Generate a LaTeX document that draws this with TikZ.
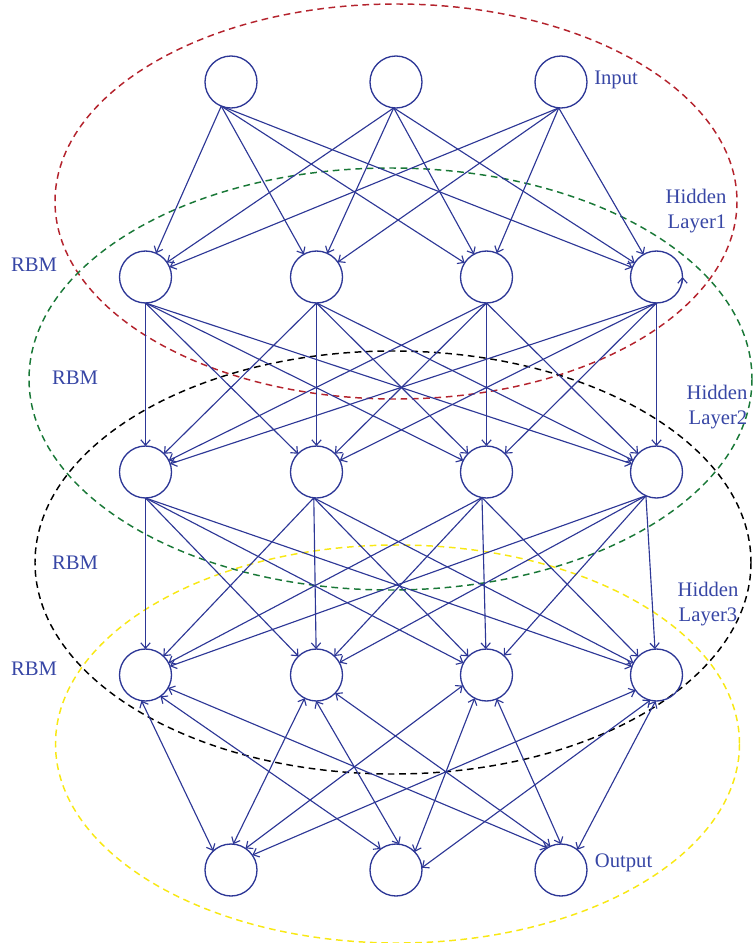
\documentclass[tikz,border=0pt]{standalone}
\usepackage{fontspec}
\setmainfont{Liberation Serif}
\usetikzlibrary{arrows.meta}
\definecolor{netblue}{RGB}{45,55,150}
\definecolor{lblblue}{RGB}{55,70,165}
\definecolor{rbmred}{RGB}{180,35,45}
\definecolor{rbmgreen}{RGB}{25,120,55}
\definecolor{rbmyellow}{RGB}{248,232,20}
\begin{document}
\begin{tikzpicture}[x=0.75pt,y=-0.75pt,
  neuron/.style={circle,draw=netblue,line width=1pt,minimum size=39pt,inner sep=0pt,outer sep=0pt},
  tipbarb/.tip={Straight Barb[length=4pt,width=7pt]},
  link/.style={draw=netblue,line width=0.85pt,-tipbarb},
  duplex/.style={draw=netblue,line width=0.85pt,tipbarb-tipbarb},
  group/.style={line width=1.1pt,dash pattern=on 5pt off 3.5pt},
  lbl/.style={text=lblblue,font=\fontsize{15.5}{18}\selectfont,inner sep=0pt}
]
\useasboundingbox (0,0) rectangle (755,943);
\clip (0,0) rectangle (755,943);

% dashed RBM groupings
\draw[group,draw=rbmred]    (396,201.5) ellipse [x radius=341,y radius=197.5];
\draw[group,draw=rbmgreen]  (390.5,379) ellipse [x radius=361.5,y radius=211];
\draw[group,draw=black]     (393,562.5) ellipse [x radius=358,y radius=211.5];
\draw[group,draw=rbmyellow] (397.5,744) ellipse [x radius=342,y radius=199];

% neurons
\foreach \n/\x in {1/231,2/396,3/561} {
  \node[neuron] (in\n) at (\x,82) {};
  \node[neuron] (o\n) at (\x,870) {};
}
\foreach \n/\x in {1/145.5,2/316.5,3/486.5,4/656.5} {
  \node[neuron] (h1\n) at (\x,277) {};
  \node[neuron] (h2\n) at (\x,472) {};
  \node[neuron] (h3\n) at (\x,675) {};
}

% input -> hidden layer 1
\foreach \s/\a in {in1/-112,in2/-95,in3/-95}
  \foreach \t in {h11,h12,h13,h14}
    \draw[link] (\s.\a) -- (\t);

% hidden layer 1 -> hidden layer 2
\foreach \s in {h11,h12,h13,h14}
  \foreach \t in {h21,h22,h23,h24}
    \draw[link] (\s.south) -- (\t);

% hidden layer 2 -> hidden layer 3
\foreach \s/\a in {h21/-90,h22/-96,h23/-100,h24/-114}
  \foreach \t in {h31,h32,h33,h34}
    \draw[link] (\s.\a) -- (\t);

% hidden layer 3 <-> output
\foreach \s/\a/\t/\b in {h31/-99/o1/133, h31/-55/o2/126, h31/-30/o3/122,
                         h32/-117/o1/85, h32/-91/o2/83, h32/-44/o3/114,
                         h33/-156/o1/56, h33/-117/o2/44, h33/-67/o3/90,
                         h34/-144/o1/35, h34/-104/o2/5, h34/-92/o3/51}
  \draw[duplex] (\s.\a) -- (\t.\b);

% small arrow on the rim of the last hidden-1 unit
\draw[link] (h14.-16) arc[start angle=-16,end angle=0,radius=19.5pt];

% labels
\node[lbl,anchor=base west] (lin) at (594,84) {Input};
\node[lbl,anchor=base] (lh1a) at (696,203) {Hidden};
\node[lbl,anchor=base] (lh1b) at (697,228) {Layer1};
\node[lbl,anchor=base] (lh2a) at (717,399) {Hidden};
\node[lbl,anchor=base] (lh2b) at (718,424) {Layer2};
\node[lbl,anchor=base] (lh3a) at (708,596) {Hidden};
\node[lbl,anchor=base] (lh3b) at (708,621) {Layer3};
\node[lbl,anchor=base] (rbm1) at (34,271) {RBM};
\node[lbl,anchor=base] (rbm2) at (75,384) {RBM};
\node[lbl,anchor=base] (rbm3) at (75,569) {RBM};
\node[lbl,anchor=base] (rbm4) at (34,675) {RBM};
\node[lbl,anchor=base west] (lout) at (594.6,867) {Output};
\end{tikzpicture}
\end{document}
